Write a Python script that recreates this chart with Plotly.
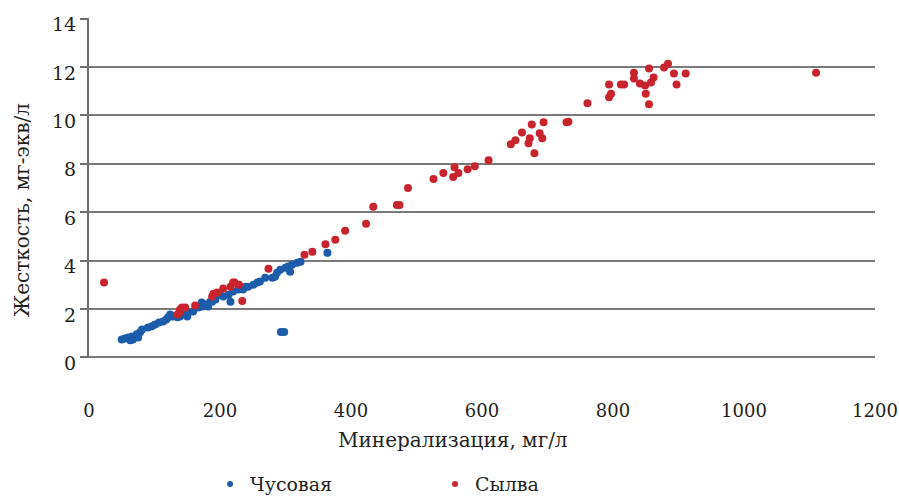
import plotly.graph_objects as go

# Чусовая (blue)
chus_x = [50, 55, 60, 63, 66, 67, 70, 73, 75, 78, 81, 90, 96, 101, 107, 113, 118, 121, 124, 128,
          135, 139, 144, 150, 151, 159, 167, 172, 173, 177, 182, 185, 188, 193, 196, 200, 205, 213,
          216, 220, 228, 235, 239, 243, 251, 257, 261, 269, 280, 284, 287, 292, 300, 304, 307, 310,
          318, 323, 364, 293, 298]
chus_y = [0.74, 0.78, 0.82, 0.70, 0.86, 0.74, 0.86, 0.95, 0.82, 1.03, 1.15, 1.23, 1.28, 1.36, 1.44,
          1.48, 1.56, 1.65, 1.77, 1.69, 1.65, 1.69, 1.85, 1.69, 1.85, 1.89, 2.06, 2.26, 2.10, 2.18,
          2.10, 2.30, 2.30, 2.39, 2.59, 2.59, 2.51, 2.59, 2.30, 2.72, 2.80, 2.80, 2.92, 2.92, 3.00,
          3.09, 3.13, 3.29, 3.29, 3.33, 3.50, 3.62, 3.70, 3.75, 3.54, 3.83, 3.91, 3.95, 4.32, 1.05,
          1.05]

# Сылва (red)
sylva_x = [23, 135, 138, 139, 142, 147, 162, 188, 190, 196, 205, 216, 220, 222, 229, 234, 274,
           329, 341, 361, 376, 391, 423, 434, 470, 474, 487, 526, 541, 556, 558, 564, 578, 589,
           610, 644, 651, 661, 671, 673, 676, 680, 688, 692, 694, 729, 732, 761, 794, 797, 794,
           812, 817, 832, 832, 841, 849, 855, 850, 855, 862, 858, 878, 884, 893, 897, 911, 1110]
sylva_y = [3.09, 1.77, 1.85, 1.98, 2.06, 2.06, 2.14, 2.51, 2.63, 2.68, 2.84, 2.92, 3.09, 3.09,
           3.00, 2.33, 3.66, 4.24, 4.36, 4.67, 4.86, 5.23, 5.52, 6.22, 6.30, 6.30, 7.00, 7.37,
           7.62, 7.45, 7.86, 7.62, 7.78, 7.90, 8.15, 8.81, 8.97, 9.30, 8.85, 9.06, 9.63, 8.44,
           9.26, 9.06, 9.72, 9.72, 9.74, 10.50, 10.75, 10.90, 11.28, 11.28, 11.28, 11.77, 11.53,
           11.32, 11.24, 11.94, 10.90, 10.46, 11.57, 11.36, 11.98, 12.14, 11.73, 11.28, 11.73, 11.77]

x_ticks = [0, 200, 400, 600, 800, 1000, 1200]
y_ticks = [0, 2, 4, 6, 8, 10, 12, 14]
x_title = "Минерализация, мг/л"
y_title = "Жесткость, мг-экв/л"

BLUE = "#1c5cab"
RED = "#c8242d"
FONT = "DejaVu Serif"

fig = go.Figure()
fig.add_trace(go.Scatter(x=chus_x, y=chus_y, mode="markers", showlegend=False,
                         marker=dict(color=BLUE, size=8, line=dict(width=0))))
fig.add_trace(go.Scatter(x=sylva_x, y=sylva_y, mode="markers", showlegend=False,
                         marker=dict(color=RED, size=8, line=dict(width=0))))
# legend entries (small markers)
fig.add_trace(go.Scatter(x=[None], y=[None], mode="markers", name="Чусовая",
                         marker=dict(color=BLUE, size=6)))
fig.add_trace(go.Scatter(x=[None], y=[None], mode="markers", name="Сылва",
                         marker=dict(color=RED, size=6)))

fig.update_layout(
    width=899, height=500,
    margin=dict(l=89, r=24, t=18, b=142, autoexpand=False),
    plot_bgcolor="white", paper_bgcolor="white",
    font=dict(family=FONT, size=19, color="#231f20"),
    legend=dict(orientation="h", x=0.154, xanchor="left", y=-0.315, yanchor="top",
                font=dict(family=FONT, size=19), entrywidth=180, entrywidthmode="pixels",
                bgcolor="rgba(0,0,0,0)"),
    annotations=[
        dict(text=x_title, xref="paper", yref="paper", x=0.463, y=-0.24,
             xanchor="center", yanchor="middle", showarrow=False,
             font=dict(family=FONT, size=20, color="#231f20")),
        dict(text=y_title, xref="paper", yref="paper", x=-0.085, y=0.435,
             xanchor="center", yanchor="middle", showarrow=False, textangle=-90,
             font=dict(family=FONT, size=20, color="#231f20")),
    ],
)
fig.update_xaxes(
    range=[0, 1200], tickvals=x_ticks, ticktext=[str(v) for v in x_ticks],
    showgrid=False, zeroline=False, showline=False, ticks="",
    ticklabelstandoff=40, ticklabeloverflow="allow", tickfont=dict(family=FONT, size=18),
)
fig.update_yaxes(
    range=[-0.03, 14.03], tickvals=y_ticks, ticktext=[str(v) for v in y_ticks],
    showgrid=True, gridcolor="#7a7a7a", gridwidth=2,
    zeroline=True, zerolinecolor="#7a7a7a", zerolinewidth=2,
    showline=True, linecolor="#6d6d6d", linewidth=2,
    ticks="outside", ticklen=7, tickcolor="#6d6d6d", tickwidth=2,
    ticklabelshift=6, tickfont=dict(family=FONT, size=19),
)

fig.write_html("out.html")
